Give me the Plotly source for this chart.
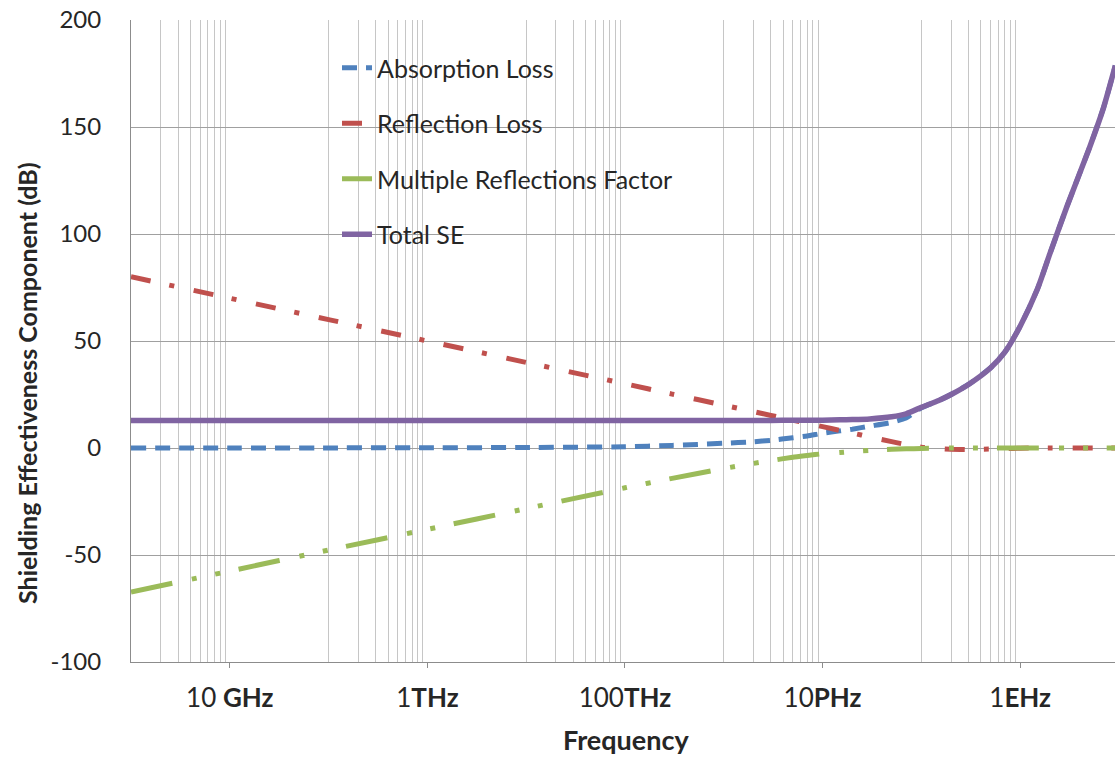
import plotly.graph_objects as go

# ---------------- data ----------------
freq_hz = [1e9, 1e10, 1e11, 1e12, 1e13, 1e14, 3e14, 1e15, 2e15, 3e15, 5e15, 7e15,
           1e16, 1.5e16, 2e16, 3e16, 5e16, 7e16, 1e17, 1.5e17, 2e17, 3e17, 5e17, 7e17,
           1e18, 1.5e18, 2e18, 3e18, 5e18, 7e18, 9.2e18]

absorption_db = [0.0, 0.02, 0.05, 0.1, 0.25, 0.6, 1.2, 2.2, 2.9, 3.6, 4.8, 5.6,
                 6.9, 8.0, 8.8, 10.2, 12.0, 14.0, 18.8, 22.2, 25.0, 29.7, 37.4, 44.8,
                 56.9, 74.4, 90.8, 113.3, 140.0, 159.2, 178.7]
reflection_db = [80, 70, 60, 50, 40, 30, 25.2, 20, 17, 15.2, 13, 11.5,
                 10, 8.2, 7.0, 5.2, 3.0, 1.6, 0.4, -0.3, -0.6, -0.7, -0.5, -0.3,
                 -0.1, 0, 0, 0, 0, 0, 0]
multiple_db = [-67.3, -57.5, -47.7, -38, -28.3, -18.6, -14.2, -9.6, -7.2, -5.9, -4.3, -3.5,
               -2.7, -2.1, -1.6, -1.1, -0.6, -0.4, -0.2, -0.1, 0, 0, 0, 0,
               0, 0, 0, 0, 0, 0, 0]
total_db = [12.8, 12.8, 12.8, 12.8, 12.8, 12.8, 12.8, 12.8, 12.9, 12.9, 13.0, 13.0,
            13.0, 13.2, 13.3, 13.6, 14.6, 16.0, 19.0, 22.2, 25.0, 29.7, 37.4, 44.8,
            56.9, 74.4, 90.8, 113.3, 140.0, 159.2, 178.7]

series_names = ["Absorption Loss", "Reflection Loss", "Multiple Reflections Factor", "Total SE"]

x_tick_values = [1e10, 1e12, 1e14, 1e16, 1e18]
x_tick_labels = ["10 <b>GHz</b>", "1<b>THz</b>", "100<b>THz</b>", "10<b>PHz</b>", "1<b>EHz</b>"]

y_tick_values = [-100, -50, 0, 50, 100, 150, 200]
y_tick_labels = ["-100", "-50", "0", "50", "100", "150", "200"]

# ---------------- styling ----------------
FONT = "Lato"
TXT = "#262626"
W, H = 1115, 757
ML, MR, MT, MB = 131, 0, 20, 95
PW, PH = W - ML - MR, H - MT - MB

def px_x(p):
    return (p - ML) / PW

def px_y(p):
    return (H - MB - p) / PH

styles = [
    dict(color="#4F81BD", dash="15px,9px", width=5),
    dict(color="#C0504D", dash="20px,19px,5px,20px", width=5),
    dict(color="#9BBB59", dash="42px,20px,5px,19px,5px,19px", width=5),
    dict(color="#8064A2", dash="solid", width=5.5),
]
values = [absorption_db, reflection_db, multiple_db, total_db]

fig = go.Figure()
for name, vals, st in zip(series_names, values, styles):
    fig.add_trace(go.Scatter(
        x=freq_hz, y=vals, mode="lines", name=name, legendgroup=name,
        line=dict(color=st["color"], width=st["width"], dash=st["dash"],
                  shape="spline", smoothing=0.6),
        cliponaxis=True,
    ))

# minor vertical grid lines (every other decade, 1..9 multiples)
grid_vals = [m * 10.0 ** e for e in (9, 11, 13, 15, 17) for m in range(1, 10)]

fig.update_xaxes(
    type="log", range=[9, 18.96],
    tickmode="array", tickvals=x_tick_values, ticktext=x_tick_labels,
    ticks="outside", ticklen=5, tickcolor="#8C8C8C", tickwidth=1,
    showgrid=False, showline=True, linecolor="#8C8C8C", linewidth=1,
    tickfont=dict(family=FONT, size=26, color=TXT),
    ticklabelstandoff=8,
    minor=dict(tickmode="array", tickvals=grid_vals, showgrid=True,
               gridcolor="#C6C6C6", gridwidth=1, ticks=""),
    zeroline=False,
)
fig.update_yaxes(
    range=[-100, 200], tickmode="array", tickvals=y_tick_values, ticktext=y_tick_labels,
    showgrid=True, gridcolor="#A0A0A0", gridwidth=1,
    showline=True, linecolor="#8C8C8C", linewidth=1,
    ticks="", zeroline=False,
    tickfont=dict(family=FONT, size=24, color=TXT),
    ticklabelstandoff=24,
)

# white legend box
fig.add_shape(type="rect", xref="paper", yref="paper",
              x0=px_x(281), x1=px_x(721), y0=px_y(271), y1=px_y(40),
              fillcolor="white", line=dict(width=0), layer="between")

fig.add_annotation(text="<b>Shielding Effectiveness Component (dB)</b>",
                   xref="paper", yref="paper", x=px_x(27), y=px_y(383),
                   xanchor="center", yanchor="middle", textangle=-90, showarrow=False,
                   font=dict(family=FONT, size=25, color=TXT))
fig.add_annotation(text="<b>Frequency</b>",
                   xref="paper", yref="paper", x=px_x(626), y=px_y(739),
                   xanchor="center", yanchor="middle", showarrow=False, borderpad=0,
                   font=dict(family=FONT, size=27, color=TXT))

fig.update_layout(
    width=W, height=H, autosize=False,
    margin=dict(l=ML, r=MR, t=MT, b=MB, pad=0),
    paper_bgcolor="white", plot_bgcolor="white",
    font=dict(family=FONT, color=TXT),
    showlegend=True,
    legend=dict(x=px_x(337), y=px_y(45), xanchor="left", yanchor="top",
                bgcolor="rgba(0,0,0,0)", borderwidth=0,
                font=dict(family=FONT, size=25, color=TXT),
                traceorder="grouped", tracegroupgap=20, itemwidth=30),
)

fig.write_html("out.html")
